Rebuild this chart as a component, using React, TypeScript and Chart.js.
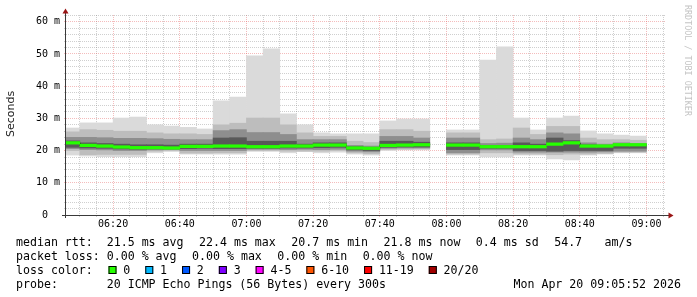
import { useEffect, useRef } from 'react';
import { Chart, registerables } from 'chart.js';

Chart.register(...registerables);

// ---- data (5-minute RRD steps, value = end of step) ----
const endTimes = [
  '06:10', '06:15', '06:20', '06:25', '06:30', '06:35', '06:40', '06:45', '06:50', '06:55',
  '07:00', '07:05', '07:10', '07:15', '07:20', '07:25', '07:30', '07:35', '07:40', '07:45',
  '07:50', '07:55', '08:00', '08:05', '08:10', '08:15', '08:20', '08:25', '08:30', '08:35',
  '08:40', '08:45', '08:50', '08:55', '09:00',
];
// outermost smoke (min / max ping), ms
const rttMin = [18.6, 18.3, 18.1, 18.1, 18.1, 19.3, 19.7, 18.9, 18.9, 18.9, 18.9, 19.7, 19.7, 19.3, 19.7, 19.3, 19.5, 18.9, 18.6, 20.0, 20.2, 20.2, null, 18.6, 18.6, 18.0, 18.0, 18.6, 18.6, 17.4, 17.1, 18.6, 18.9, 19.3, 19.3];
const rttMax = [27.0, 28.6, 28.6, 30.1, 30.4, 28.0, 27.6, 27.2, 26.7, 35.4, 36.6, 49.4, 51.6, 31.4, 28.0, 25.5, 25.2, 25.2, 25.2, 29.2, 29.8, 29.8, null, 26.4, 26.4, 48.1, 52.2, 30.1, 26.4, 30.1, 30.7, 26.1, 25.2, 24.8, 24.5];
// inner smoke bands
const band2Lo = [20.0, 18.7, 18.8, 18.8, 18.8, 19.8, 20.0, 19.2, 19.2, 19.3, 19.3, 20.0, 20.0, 19.8, 19.8, 19.8, 20.0, 19.3, 19.0, 20.3, 20.4, 20.5, null, 18.9, 18.9, 19.3, 19.3, 18.9, 18.9, 18.7, 18.9, 18.9, 19.1, 19.5, 19.5];
const band2Hi = [25.8, 26.5, 26.3, 26.0, 26.0, 25.5, 25.2, 25.2, 25.0, 28.0, 28.5, 30.1, 30.1, 28.0, 25.5, 24.4, 24.4, 22.9, 22.5, 26.5, 26.5, 26.0, null, 25.5, 25.5, 23.4, 23.6, 27.0, 25.0, 27.5, 27.5, 23.9, 23.4, 23.4, 23.2];
const band3Lo = [20.6, 20.3, 20.2, 20.0, 20.0, 20.2, 20.3, 20.0, 20.0, 20.0, 20.0, 20.4, 20.4, 20.3, 20.4, 20.3, 20.4, 19.8, 19.6, 20.7, 20.8, 20.8, null, 19.3, 19.3, 20.2, 20.2, 19.5, 19.5, 19.5, 19.5, 19.5, 19.6, 19.8, 19.8];
const band3Hi = [24.1, 24.1, 24.0, 23.8, 23.8, 23.7, 23.5, 23.4, 23.4, 26.2, 26.5, 25.6, 25.6, 25.0, 23.4, 23.4, 23.4, 21.6, 21.4, 24.4, 24.4, 23.9, null, 23.9, 23.9, 22.2, 22.3, 23.9, 23.4, 25.5, 25.2, 22.4, 22.0, 22.4, 22.2];
const band4Lo = [21.0, 20.8, 20.7, 20.5, 20.4, 20.5, 20.5, 20.6, 20.7, 20.6, 20.6, 20.7, 20.7, 20.8, 20.8, 20.9, 21.0, 20.2, 20.0, 21.0, 21.1, 21.1, null, 20.3, 20.3, 20.7, 20.7, 20.0, 20.0, 19.8, 20.0, 20.0, 20.0, 20.7, 20.7];
const band4Hi = [23.0, 22.4, 22.2, 22.0, 21.8, 21.8, 21.7, 22.0, 22.0, 23.9, 24.0, 22.9, 22.9, 22.9, 22.0, 22.4, 22.4, 21.2, 21.0, 22.9, 22.9, 22.6, null, 22.4, 22.4, 21.6, 21.6, 22.4, 22.0, 23.9, 23.1, 21.8, 21.6, 21.6, 21.6];
// median rtt, ms
const medianRtt = [22.4, 21.6, 21.4, 21.1, 20.9, 20.9, 20.8, 21.3, 21.3, 21.4, 21.4, 21.2, 21.2, 21.4, 21.4, 21.7, 21.7, 20.8, 20.7, 21.6, 21.7, 21.8, null, 21.7, 21.7, 21.2, 21.2, 21.2, 21.2, 22.0, 22.4, 21.4, 21.4, 21.8, 21.8];

const xStart = '06:05:52';
const xEnd = '09:05:52';
const xTickLabels = ['06:20', '06:40', '07:00', '07:20', '07:40', '08:00', '08:20', '08:40', '09:00'];
const yLabelValues = [0, 10, 20, 30, 40, 50, 60];
const yMax = 62.08;

const lossLabels = ['0', '1', '2', '3', '4-5', '6-10', '11-19', '20/20'];
const lossColors = ['#26ff00', '#00b8ff', '#0059ff', '#7e00ff', '#ff00ff', '#ff5500', '#ff0000', '#a10000'];

const rttLegend = ['median rtt:  21.5 ms avg', '22.4 ms max', '20.7 ms min', '21.8 ms now', '0.4 ms sd', '54.7 ', 'am/s'];
const lossLegend = ['packet loss: 0.00 % avg', '0.00 % max', '0.00 % min', '0.00 % now'];
const probeText = 'probe:       20 ICMP Echo Pings (56 Bytes) every 300s';
const dateText = 'Mon Apr 20 09:05:52 2026';

// ---- helpers ----
const STEP = 5;
const MONO = '"DejaVu Sans Mono", monospace';
const MINOR = 'rgba(128,128,128,0.38)';
const MAJOR = 'rgba(225,80,80,0.38)';

function toMin(s: string): number {
  const p = s.split(':').map(Number);
  return p[0] * 60 + p[1] + (p[2] || 0) / 60;
}

function bandData(lo: (number | null)[], hi: (number | null)[]) {
  const out: any[] = [];
  endTimes.forEach((t, i) => {
    if (lo[i] == null || hi[i] == null) return;
    out.push({ x: toMin(t) - STEP / 2, y: [lo[i], hi[i]] });
  });
  return out;
}

function medianBandData() {
  const out: any[] = [];
  endTimes.forEach((t, i) => {
    const m = medianRtt[i];
    if (m == null) return;
    out.push({ x: toMin(t) - STEP / 2, y: [m - 0.4, m + 0.4] });
  });
  return out;
}

function medianLineData() {
  const out: any[] = [];
  endTimes.forEach((t, i) => {
    const m = medianRtt[i];
    const e = toMin(t);
    if (m == null) {
      out.push({ x: e - STEP / 2, y: null });
      return;
    }
    out.push({ x: e - STEP, y: m });
    out.push({ x: e, y: m });
  });
  return out;
}

const rrdPlugin = {
  id: 'rrdDecor',
  beforeDraw(chart: any) {
    const c = chart.ctx;
    c.save();
    c.fillStyle = '#ffffff';
    c.fillRect(0, 0, chart.width, chart.height);
    c.restore();
  },
  afterDraw(chart: any) {
    const c: CanvasRenderingContext2D = chart.ctx;
    const { left, right, top, bottom } = chart.chartArea;
    c.save();
    // axes
    c.strokeStyle = '#3a3a3a';
    c.lineWidth = 1;
    c.beginPath();
    c.moveTo(left + 0.5 - 1, bottom + 3);
    c.lineTo(left + 0.5 - 1, top - 2);
    c.moveTo(left - 4, bottom + 0.5);
    c.lineTo(right + 3, bottom + 0.5);
    c.stroke();
    // arrows
    c.fillStyle = '#9a1515';
    const ax = left - 0.5;
    c.beginPath();
    c.moveTo(ax, top - 6.5);
    c.lineTo(ax - 3, top - 1.5);
    c.lineTo(ax + 3, top - 1.5);
    c.closePath();
    c.fill();
    const ay = bottom + 0.5;
    c.beginPath();
    c.moveTo(right + 7.5, ay);
    c.lineTo(right + 2.5, ay - 3);
    c.lineTo(right + 2.5, ay + 3);
    c.closePath();
    c.fill();

    // y title
    c.save();
    c.translate(11, 114);
    c.rotate(-Math.PI / 2);
    c.font = '11px "DejaVu Sans", sans-serif';
    c.fillStyle = '#222';
    c.textAlign = 'center';
    c.textBaseline = 'middle';
    c.fillText('Seconds', 0, 0);
    c.restore();

    // watermark
    c.save();
    c.translate(687.5, 5);
    c.rotate(Math.PI / 2);
    c.font = `8.4px ${MONO}`;
    c.fillStyle = '#c4c4c4';
    c.textAlign = 'left';
    c.textBaseline = 'middle';
    c.fillText('RRDTOOL / TOBI OETIKER', 0, 0);
    c.restore();

    // legend
    c.font = `11.6px ${MONO}`;
    c.fillStyle = '#000';
    c.textAlign = 'left';
    c.textBaseline = 'alphabetic';
    const GAP = 15.5;
    const row = (items: string[], y: number) => {
      let x = 16;
      items.forEach((s) => {
        c.fillText(s, x, y);
        x += c.measureText(s).width + GAP;
      });
    };
    row(rttLegend, 246);
    row(lossLegend, 260);
    c.fillText('loss color:', 16, 274);
    let sx = 108.5;
    lossLabels.forEach((lab, i) => {
      c.fillStyle = lossColors[i];
      c.fillRect(sx, 266, 8, 8);
      c.strokeStyle = '#000';
      c.strokeRect(sx + 0.5, 266.5, 7, 7);
      c.fillStyle = '#000';
      c.fillText(lab, sx + 14.8, 274);
      sx += 14.8 + c.measureText(lab).width + 15;
    });
    c.fillText(probeText, 16, 288);
    c.textAlign = 'right';
    c.fillText(dateText, 681, 288);
    c.restore();
  },
};

export default function App() {
  const ref = useRef<HTMLCanvasElement>(null);

  useEffect(() => {
    const canvas = ref.current;
    if (!canvas) return;
    const xMin = toMin(xStart);
    const xMax = toMin(xEnd);
    const barCommon = {
      type: 'bar' as const,
      grouped: false,
      barPercentage: 1,
      categoryPercentage: 1,
      borderWidth: 0,
    };
    const chart = new Chart(canvas, {
      type: 'bar',
      data: {
        datasets: [
          { ...barCommon, label: 'median', data: medianBandData(), backgroundColor: lossColors[0] },
          {
            type: 'line',
            label: 'median line',
            data: medianLineData(),
            borderColor: '#202020',
            borderWidth: 1,
            pointRadius: 0,
            fill: false,
            spanGaps: false,
            tension: 0,
          } as any,
          { ...barCommon, label: 'smoke4', data: bandData(band4Lo, band4Hi), backgroundColor: '#595959' },
          { ...barCommon, label: 'smoke3', data: bandData(band3Lo, band3Hi), backgroundColor: '#8e8e8e' },
          { ...barCommon, label: 'smoke2', data: bandData(band2Lo, band2Hi), backgroundColor: '#bdbdbd' },
          { ...barCommon, label: 'smoke1', data: bandData(rttMin, rttMax), backgroundColor: '#dadada' },
        ],
      },
      options: {
        animation: false,
        responsive: false,
        devicePixelRatio: 1,
        events: [],
        layout: { padding: { left: 0, right: 31, top: 15, bottom: 0 } },
        plugins: { legend: { display: false }, tooltip: { enabled: false }, title: { display: false } },
        scales: {
          x: {
            type: 'linear',
            min: xMin,
            max: xMax,
            offset: false,
            z: 1,
            afterBuildTicks: (s: any) => {
              const t: any[] = [];
              for (let v = Math.ceil(xMin / STEP) * STEP; v <= xMax; v += STEP) t.push({ value: v });
              s.ticks = t;
            },
            afterFit: (s: any) => {
              s.height = 82;
            },
            grid: {
              offset: false,
              color: (ctx: any) => (Math.round(ctx.tick.value) % 20 === 0 ? MAJOR : MINOR),
              tickColor: (ctx: any) => (Math.round(ctx.tick.value) % 20 === 0 ? MAJOR : MINOR),
              tickLength: 2,
              lineWidth: 1,
            },
            border: { display: false, dash: [1, 1] },
            ticks: {
              autoSkip: false,
              maxRotation: 0,
              minRotation: 0,
              padding: 1,
              color: '#000',
              font: { family: MONO, size: 10 },
              callback: (value: any) => {
                const m = Math.round(Number(value));
                const lab = xTickLabels.find((l) => Math.round(toMin(l)) === m);
                return lab || '';
              },
            },
          },
          y: {
            type: 'linear',
            min: 0,
            max: yMax,
            z: 1,
            afterBuildTicks: (s: any) => {
              const t: any[] = [];
              for (let v = 0; v <= yMax; v += 2) t.push({ value: v });
              s.ticks = t;
            },
            afterFit: (s: any) => {
              s.width = 66;
            },
            grid: {
              color: (ctx: any) => (ctx.tick.value % 10 === 0 ? MAJOR : MINOR),
              tickColor: (ctx: any) => (ctx.tick.value % 10 === 0 ? MAJOR : MINOR),
              tickLength: 2,
              lineWidth: 1,
            },
            border: { display: false, dash: [1, 1] },
            ticks: {
              autoSkip: false,
              padding: 4,
              color: '#000',
              font: { family: MONO, size: 10 },
              callback: (value: any) => {
                const v = Number(value);
                if (!yLabelValues.includes(v)) return '';
                return v === 0 ? '0  ' : `${v} m`;
              },
            },
          },
        },
      } as any,
      plugins: [rrdPlugin],
    });
    return () => chart.destroy();
  }, []);

  return (
    <canvas
      ref={ref}
      width={697}
      height={297}
      style={{ position: 'fixed', left: 0, top: 0, width: 697, height: 297 }}
    />
  );
}
